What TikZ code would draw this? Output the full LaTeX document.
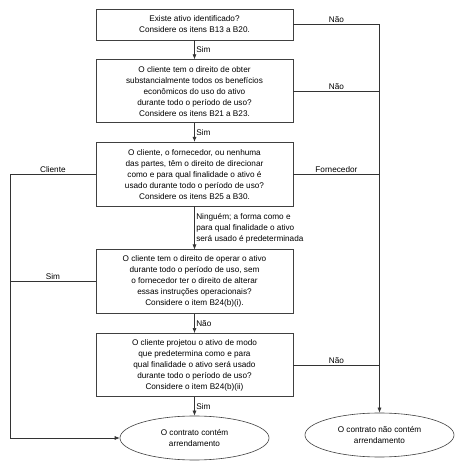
\documentclass[tikz,border=0pt]{standalone}
\usepackage{fontspec}
\setmainfont{Liberation Sans}
\usetikzlibrary{arrows.meta, positioning, shapes.geometric}

\begin{document}
\begin{tikzpicture}[x=1pt, y=1pt, >={Latex[length=5pt,width=4pt]},
    line width=0.6pt, draw=black!80,
    every node/.style={font=\fontsize{8.2}{11}\selectfont},
    box/.style={draw=black!75, align=center, minimum width=197pt,
                inner sep=2pt},
    endst/.style={draw=black!75, ellipse, align=center, minimum width=149pt,
                minimum height=44pt, inner sep=0pt},
    lbl/.style={inner sep=1.5pt}]
    \useasboundingbox (0,0) rectangle (475,-468);
    \node[box, minimum height=31pt] (b1) at (194.5,-24.5)
        {Existe ativo identificado?\\Considere os itens B13 a B20.};
    \node[box, minimum height=63pt, below=19pt of b1] (b2)
        {O cliente tem o direito de obter\\substancialmente todos os benefícios\\econômicos do uso do ativo\\durante todo o período de uso?\\Considere os itens B21 a B23.};
    \node[box, minimum height=64pt, below=19pt of b2] (b3)
        {O cliente, o fornecedor, ou nenhuma\\das partes, têm o direito de direcionar\\como e para qual finalidade o ativo é\\usado durante todo o período de uso?\\Considere os itens B25 a B30.};
    \node[box, minimum height=64pt, below=43pt of b3] (b4)
        {O cliente tem o direito de operar o ativo\\durante todo o período de uso, sem\\o fornecedor ter o direito de alterar\\essas instruções operacionais?\\Considere o item B24(b)(i).};
    \node[box, minimum height=63pt, below=19pt of b4] (b5)
        {O cliente projetou o ativo de modo\\que predetermina como e para\\qual finalidade o ativo será usado\\durante todo o período de uso?\\Considere o item B24(b)(ii)};
    \node[endst, below=19pt of b5] (yes) {O contrato contém\\arrendamento};
    \node[endst] (no) at (379.5,-435) {O contrato não contém\\arrendamento};
    \coordinate (lft) at (10,0);

    \draw[->] (b1) -- node[right, lbl]{Sim} (b2);
    \draw[->] (b2) -- node[right, lbl]{Sim} (b3);
    \draw[->] (b3) -- node[right, lbl, align=left]{Ninguém; a forma como e\\para qual finalidade o ativo\\será usado é predeterminada} (b4);
    \draw[->] (b4) -- node[right, lbl]{Não} (b5);
    \draw[->] (b5) -- node[right, lbl]{Sim} (yes);

    \draw[->] (b1.east) -| node[pos=0.25, above, lbl]{Não} (no.north);
    \draw (b2.east) -- node[above, lbl]{Não} (b2.east -| no.north);
    \draw (b3.east) -- node[above, lbl]{Fornecedor} (b3.east -| no.north);
    \draw (b5.east) -- node[above, lbl]{Não} (b5.east -| no.north);

    \draw[->] (b3.west) -- node[above, lbl]{Cliente} (b3.west -| lft) |- (yes.west);
    \draw (b4.west) -- node[above, lbl]{Sim} (b4.west -| lft);
\end{tikzpicture}
\end{document}
